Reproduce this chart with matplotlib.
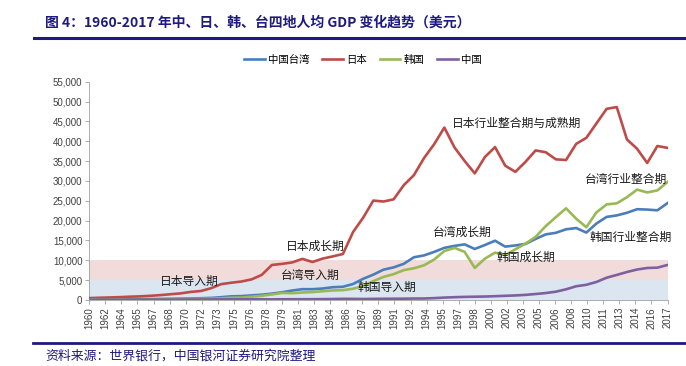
import numpy as np
import matplotlib
matplotlib.use("Agg")
from matplotlib import pyplot as plt
from matplotlib.lines import Line2D

plt.rcParams['font.family'] = ['Noto Sans CJK SC', 'DejaVu Sans']

# ---- data (GDP per capita, current USD) ----
years = list(range(1960, 2018))

taiwan = [164, 154, 164, 180, 204, 217, 237, 267, 304, 344,
          393, 451, 526, 704, 933, 985, 1168, 1336, 1607, 1949,
          2385, 2727, 2719, 2893, 3221, 3337, 4031, 5345, 6388, 7641,
          8216, 9115, 10768, 11237, 12118, 13139, 13636, 14020, 12860, 13855,
          14941, 13448, 13750, 14120, 15388, 16532, 16934, 17814, 18131, 16988,
          19278, 20939, 21308, 21973, 22874, 22780, 22592, 24408]

japan = [479, 564, 634, 718, 836, 919, 1058, 1229, 1451, 1669,
         2038, 2272, 2967, 3997, 4354, 4659, 5198, 6335, 8821, 9105,
         9463, 10361, 9578, 10425, 10985, 11585, 17112, 20745, 25052, 24813,
         25359, 28925, 31465, 35766, 39269, 43440, 38437, 35022, 31903, 36027,
         38532, 33846, 32289, 34808, 37689, 37218, 35434, 35275, 39339, 40855,
         44508, 48168, 48603, 40454, 38109, 34524, 38794, 38332]

korea = [155, 93, 106, 146, 124, 109, 133, 161, 198, 243,
         279, 301, 324, 406, 563, 617, 834, 1055, 1405, 1783,
         1711, 1883, 1993, 2199, 2413, 2482, 2835, 3555, 4749, 5817,
         6516, 7523, 7998, 8741, 10206, 12333, 13138, 12131, 8085, 10409,
         11948, 11253, 12782, 14209, 15908, 18640, 20888, 23101, 20474, 18339,
         22087, 24080, 24359, 25890, 27811, 27105, 27608, 29743]

china = [90, 76, 70, 74, 85, 98, 104, 97, 91, 100,
         113, 119, 132, 157, 160, 178, 165, 185, 156, 184,
         195, 197, 203, 225, 251, 294, 282, 252, 284, 311,
         318, 333, 366, 377, 473, 610, 709, 782, 829, 873,
         959, 1053, 1149, 1289, 1509, 1753, 2099, 2694, 3468, 3832,
         4550, 5618, 6317, 7051, 7679, 8067, 8148, 8827]

series_names = ["中国台湾", "日本", "韩国", "中国"]
series_colors = ["#4a7ebb", "#be4b48", "#98b954", "#7d60a0"]

# category labels as they appear on the axis (auto-skipped by the source tool)
xtick_labels = ["1960", "1962", "1964", "1965", "1967", "1968", "1970", "1972",
                "1973", "1975", "1976", "1978", "1979", "1981", "1983", "1984",
                "1986", "1987", "1989", "1991", "1992", "1994", "1995", "1997",
                "1998", "2000", "2002", "2003", "2005", "2006", "2008", "2010",
                "2011", "2013", "2014", "2016", "2017"]

# stage annotations: (text, year position, value)
notes = [("日本导入期", 1969.9, 4800),
         ("台湾导入期", 1981.8, 6300),
         ("日本成长期", 1982.3, 13600),
         ("韩国导入期", 1989.3, 3300),
         ("台湾成长期", 1996.8, 17100),
         ("韩国成长期", 2003.0, 10800),
         ("日本行业整合期与成熟期", 2002.1, 44400),
         ("台湾行业整合期", 2012.9, 30500),
         ("韩国行业整合期", 2013.4, 15900)]

navy = "#1f1a80"

fig = plt.figure(figsize=(6.86, 3.66), dpi=100)
ax = fig.add_axes([89.3 / 686, 1 - 300 / 366, (667.5 - 89.3) / 686, (300 - 81.7) / 366])

x = np.arange(len(years))
# background bands
ax.axhspan(5000, 10000, color="#f2dcdb", zorder=0, lw=0)
ax.axhspan(0, 5000, color="#dce6f1", zorder=0, lw=0)

for vals, name, col in zip([taiwan, japan, korea, china], series_names, series_colors):
    ax.plot(x, vals, color=col, lw=1.9, label=name, zorder=3, solid_joinstyle="round")

for txt, yr, v in notes:
    ax.text(yr - 1960, v, txt, ha="center", va="center", fontsize=8.5,
            color="#1a1a1a", zorder=4)

ax.set_xlim(0, len(years) - 1)
ax.set_ylim(0, 55000)
ax.set_yticks(np.arange(0, 55001, 5000))
ax.set_yticklabels([f"{v:,}" for v in range(0, 55001, 5000)],
                   fontsize=7, color="#404040", family="Liberation Sans")
ax.set_xticks(np.linspace(0, len(years) - 1, len(xtick_labels)))
ax.set_xticklabels(xtick_labels, rotation=90, fontsize=7, color="#404040",
                   family="Liberation Sans")
ax.tick_params(axis="both", direction="out", length=3, width=0.6, color="#a0a0a0", pad=2)
for s in ["top", "right"]:
    ax.spines[s].set_visible(False)
for s in ["left", "bottom"]:
    ax.spines[s].set_color("#a0a0a0")
    ax.spines[s].set_linewidth(0.6)

handles = [Line2D([], [], color=c, lw=1.9) for c in series_colors]
fig.legend(handles, series_names, loc="center", bbox_to_anchor=(363 / 686, 1 - 60 / 366),
           ncol=4, frameon=False, fontsize=7.5, handlelength=2.0, handletextpad=0.3,
           columnspacing=1.2)

# title, rules and source
fig.text(45 / 686, 1 - 23 / 366, "图 4：1960-2017 年中、日、韩、台四地人均 GDP 变化趋势（美元）",
         fontsize=10, fontweight="bold", color=navy, va="center", ha="left")
fig.add_artist(Line2D([34 / 686, 1], [1 - 38 / 366] * 2, color=navy, lw=2.2))
fig.add_artist(Line2D([33 / 686, 1], [1 - 343 / 366] * 2, color=navy, lw=2.0))
fig.text(45 / 686, 1 - 356 / 366, "资料来源：世界银行，中国银河证券研究院整理",
         fontsize=9.3, color=navy, style="italic", va="center", ha="left")

plt.savefig("out.png", dpi=100)
plt.close()
